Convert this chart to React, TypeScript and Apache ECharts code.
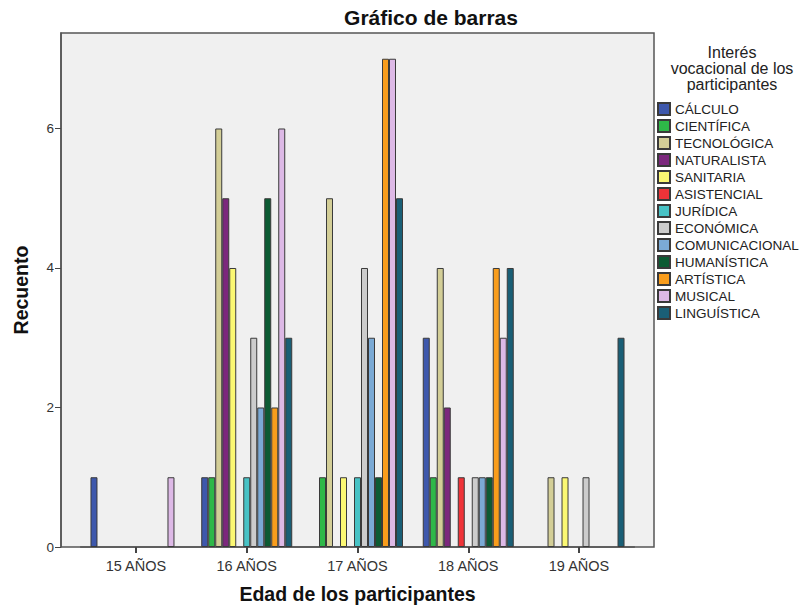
import React, { useEffect, useRef } from "react";
import * as echarts from "echarts";

const categories = ["15 AÑOS", "16 AÑOS", "17 AÑOS", "18 AÑOS", "19 AÑOS"];
const seriesNames = [
  "CÁLCULO",
  "CIENTÍFICA",
  "TECNOLÓGICA",
  "NATURALISTA",
  "SANITARIA",
  "ASISTENCIAL",
  "JURÍDICA",
  "ECONÓMICA",
  "COMUNICACIONAL",
  "HUMANÍSTICA",
  "ARTÍSTICA",
  "MUSICAL",
  "LINGUÍSTICA",
];
const seriesColors = [
  "#3E58AC",
  "#2EB848",
  "#D3CE97",
  "#7C287D",
  "#FBF873",
  "#EF3338",
  "#48C2C5",
  "#CCCCCC",
  "#7BAAD5",
  "#0C5B33",
  "#F99D1C",
  "#DDB9E6",
  "#1A5F76",
];
// values per series, one per age category
const calculo = [1, 1, 0, 3, 0];
const cientifica = [0, 1, 1, 1, 0];
const tecnologica = [0, 6, 5, 4, 1];
const naturalista = [0, 5, 0, 2, 0];
const sanitaria = [0, 4, 1, 0, 1];
const asistencial = [0, 0, 0, 1, 0];
const juridica = [0, 1, 1, 0, 0];
const economica = [0, 3, 4, 1, 1];
const comunicacional = [0, 2, 3, 1, 0];
const humanistica = [0, 5, 1, 1, 0];
const artistica = [0, 2, 7, 4, 0];
const musical = [1, 6, 7, 3, 0];
const linguistica = [0, 3, 5, 4, 3];
const seriesValues = [
  calculo,
  cientifica,
  tecnologica,
  naturalista,
  sanitaria,
  asistencial,
  juridica,
  economica,
  comunicacional,
  humanistica,
  artistica,
  musical,
  linguistica,
];
const yTicks = [0, 2, 4, 6];
const legendTitle = ["Interés", "vocacional de los", "participantes"];

const FONT = "'Liberation Sans', Arial, sans-serif";

export default function App() {
  const ref = useRef<HTMLDivElement>(null);
  useEffect(() => {
    if (!ref.current) return;
    document.body.style.margin = "0";
    const chart = echarts.init(ref.current, null, { renderer: "svg" });
    const frameL = 61,
      frameR = 654,
      frameT = 33,
      frameB = 547;
    const gridL = 80.6,
      gridR = 634.4;
    chart.setOption({
      animation: false,
      textStyle: { fontFamily: FONT },
      grid: {
        left: gridL,
        right: 809 - gridR,
        top: frameT,
        bottom: 605 - frameB,
        containLabel: false,
        outerBoundsMode: "none",
      },
      graphic: [
        {
          type: "rect",
          z: -10,
          shape: { x: frameL, y: frameT, width: frameR - frameL, height: frameB - frameT },
          style: { fill: "#F0F0F0", stroke: "#555", lineWidth: 1.5 },
        },
        {
          type: "text",
          x: 431,
          y: 17,
          style: {
            text: "Gráfico de barras",
            fontFamily: FONT,
            fontSize: 21,
            fontWeight: "bold",
            fill: "#111",
            textAlign: "center",
            textVerticalAlign: "middle",
          },
        },
        ...legendTitle.map((t, i) => ({
          type: "text",
          x: 732,
          y: [52, 68, 84][i],
          style: {
            text: t,
            fontFamily: FONT,
            fontSize: 16,
            fill: "#222",
            textAlign: "center",
            textVerticalAlign: "middle",
          },
        })),
      ],
      legend: {
        orient: "vertical",
        left: 657,
        top: 102,
        itemWidth: 12,
        itemHeight: 12,
        itemGap: 3,
        padding: 0,
        icon: "rect",
        selectedMode: false,
        textStyle: { fontFamily: FONT, fontSize: 13.5, color: "#222", lineHeight: 12 },
        data: seriesNames,
      },
      xAxis: {
        type: "category",
        data: categories,
        name: "Edad de los participantes",
        nameLocation: "middle",
        nameGap: 37,
        nameTextStyle: { fontFamily: FONT, fontSize: 19.5, fontWeight: "bold", color: "#111" },
        axisLine: { show: true, lineStyle: { color: "#555", width: 1.5 } },
        axisTick: { show: true, alignWithLabel: true, length: 6, lineStyle: { color: "#444", width: 2 } },
        axisLabel: { fontFamily: FONT, fontSize: 14.5, color: "#333", margin: 11 },
        splitLine: { show: false },
      },
      yAxis: {
        type: "value",
        min: 0,
        max: 7.369,
        interval: 2,
        offset: gridL - frameL,
        name: "Recuento",
        nameLocation: "middle",
        nameGap: 30,
        nameRotate: 90,
        nameTextStyle: { fontFamily: FONT, fontSize: 19.5, fontWeight: "bold", color: "#111" },
        axisLine: { show: true, lineStyle: { color: "#555", width: 1.5 } },
        axisTick: { show: true, length: 6, lineStyle: { color: "#444", width: 1 } },
        axisLabel: {
          fontFamily: FONT,
          fontSize: 13.5,
          color: "#333",
          margin: 7,
          showMaxLabel: false,
          formatter: (v: number) => (yTicks.includes(v) ? String(v) : ""),
        },
        splitLine: { show: false },
      },
      series: seriesNames.map((name, i) => ({
        name,
        type: "bar",
        barWidth: 7,
        barGap: "0%",
        data: seriesValues[i].map((v) => (v === 0 ? null : v)),
        itemStyle: { color: seriesColors[i], borderColor: "#3a3a3a", borderWidth: 1 },
      })),
    });
    return () => chart.dispose();
  }, []);
  return <div ref={ref} style={{ width: 809, height: 605 }} />;
}
